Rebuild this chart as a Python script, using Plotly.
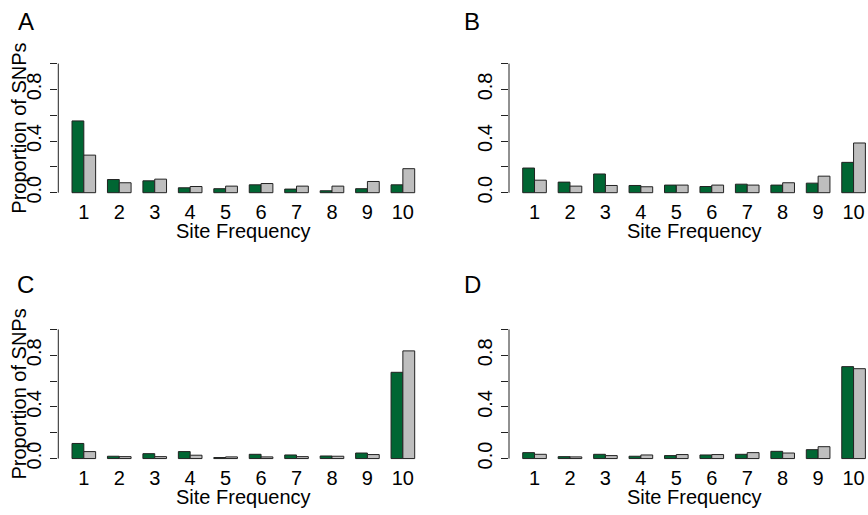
import plotly.graph_objects as go

categories = [1, 2, 3, 4, 5, 6, 7, 8, 9, 10]
tick_labels = ["1", "2", "3", "4", "5", "6", "7", "8", "9", "10"]

A_green = [0.556, 0.102, 0.092, 0.038, 0.031, 0.061, 0.028, 0.015, 0.031, 0.061]
A_gray = [0.291, 0.077, 0.105, 0.048, 0.051, 0.071, 0.051, 0.051, 0.087, 0.186]
B_green = [0.191, 0.082, 0.145, 0.056, 0.059, 0.048, 0.066, 0.059, 0.074, 0.235]
B_gray = [0.097, 0.051, 0.056, 0.046, 0.059, 0.059, 0.059, 0.077, 0.128, 0.385]
C_green = [0.117, 0.018, 0.038, 0.054, 0.008, 0.033, 0.028, 0.020, 0.043, 0.668]
C_gray = [0.054, 0.015, 0.015, 0.026, 0.013, 0.013, 0.015, 0.018, 0.031, 0.834]
D_green = [0.046, 0.015, 0.033, 0.018, 0.023, 0.028, 0.033, 0.056, 0.069, 0.712]
D_gray = [0.033, 0.013, 0.023, 0.028, 0.031, 0.031, 0.046, 0.043, 0.092, 0.696]

y_tickvals = [0, 0.2, 0.4, 0.6, 0.8, 1.0]
y_ticktext = ["0.0", "", "0.4", "", "0.8", ""]

panel_letters = ["A", "B", "C", "D"]
x_title = "Site Frequency"
y_title = "Proportion of SNPs"

GREEN = "#006633"
GRAY = "#BEBEBE"
EDGE = "#222222"
FONT = "Liberation Sans, Arial, sans-serif"

W, H = 868, 515

panels = [
    (A_green, A_gray),
    (B_green, B_gray),
    (C_green, C_gray),
    (D_green, D_gray),
]

# pixel geometry of plot regions (left, y(-0.04), y(1.04))
geom = [
    (58.3, 200.2, 59.1),
    (509.0, 200.2, 59.1),
    (58.3, 469.2, 328.1),
    (509.0, 469.2, 328.1),
]
letter_pos = [(26.3, 22), (472.3, 22), (25.5, 287.5), (472.8, 288.3)]
unit_px = 35.45


def px_x(v):
    return v / W


def px_y(v):
    return (H - v) / H


fig = go.Figure()
layout = dict(
    width=W, height=H,
    margin=dict(l=0, r=0, t=0, b=0),
    paper_bgcolor="white", plot_bgcolor="white",
    barmode="group", bargap=1/3, bargroupgap=0,
    showlegend=False,
    font=dict(family=FONT, size=20, color="black"),
)
annotations = []
shapes = []

for i, (g, s) in enumerate(panels):
    n = "" if i == 0 else str(i + 1)
    xa, ya = "x" + n, "y" + n
    fig.add_trace(go.Bar(x=categories, y=g, xaxis=xa, yaxis=ya,
                         marker=dict(color=GREEN, line=dict(color=EDGE, width=1))))
    fig.add_trace(go.Bar(x=categories, y=s, xaxis=xa, yaxis=ya,
                         marker=dict(color=GRAY, line=dict(color=EDGE, width=1))))
    lpx, bpx, tpx = geom[i]
    full_right = lpx + (10.72 - 0.28) * unit_px
    rpx = min(full_right, W)
    x0 = 0.28
    x1 = x0 + (rpx - lpx) / unit_px
    layout["xaxis" + n] = dict(
        domain=[px_x(lpx), min(1.0, px_x(rpx))], range=[x0, x1], anchor=ya,
        tickvals=categories, ticktext=tick_labels, ticks="",
        showline=False, showgrid=False, zeroline=False,
        ticklabelstandoff=0, tickfont=dict(size=20),
    )
    layout["yaxis" + n] = dict(
        domain=[px_y(bpx), px_y(tpx)], range=[-0.04, 1.04], anchor=xa,
        tickvals=y_tickvals, ticktext=y_ticktext, ticks="outside", ticklen=7,
        tickcolor=EDGE, tickwidth=1, tickangle=-90,
        showline=False, showgrid=False, zeroline=False,
        ticklabelstandoff=1, tickfont=dict(size=20),
    )
    shapes.append(dict(type="line", xref=xa + " domain", yref=ya,
                       x0=0, x1=0, y0=0, y1=1,
                       line=dict(color=EDGE, width=1)))
    cx = (lpx + full_right) / 2
    zero_px = bpx - 0.04 * (bpx - tpx) / 1.08
    top_px = tpx + 0.04 * (bpx - tpx) / 1.08
    annotations.append(dict(text=x_title, xref="paper", yref="paper",
                            x=px_x(cx), y=px_y(bpx + 33.5),
                            xanchor="center", yanchor="middle",
                            showarrow=False, font=dict(size=20)))
    annotations.append(dict(text=panel_letters[i], xref="paper", yref="paper",
                            x=px_x(letter_pos[i][0]), y=px_y(letter_pos[i][1]),
                            xanchor="center", yanchor="middle",
                            showarrow=False, font=dict(size=24)))
    if i in (0, 2):
        cy = (zero_px + top_px) / 2
        annotations.append(dict(text=y_title, xref="paper", yref="paper",
                                x=px_x(19.5), y=px_y(cy), textangle=-90,
                                xanchor="center", yanchor="middle",
                                showarrow=False, font=dict(size=20)))

layout["annotations"] = annotations
layout["shapes"] = shapes
fig.update_layout(**layout)
fig.write_html("out.html", config={"displayModeBar": False},
               post_script="document.body.style.margin='0';")
